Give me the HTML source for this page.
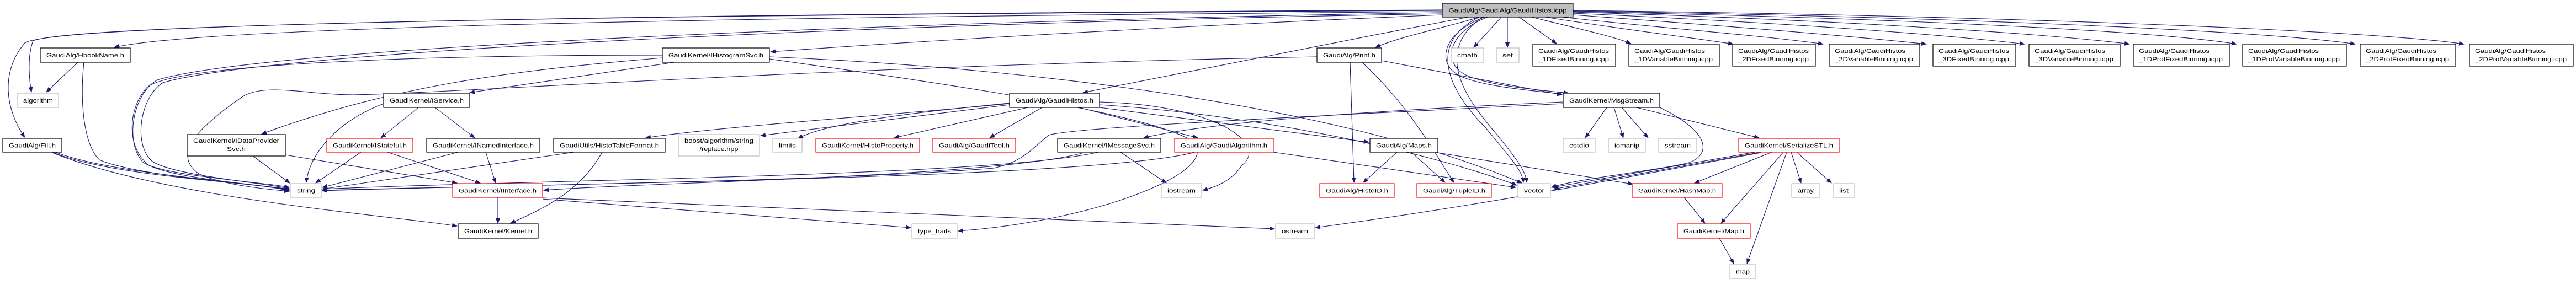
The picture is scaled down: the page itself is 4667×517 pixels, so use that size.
<!DOCTYPE html>
<html><head><meta charset="utf-8"><style>
html,body{margin:0;padding:0;background:#fff;}
svg{display:block;}
text{font-family:"Liberation Sans",sans-serif;font-size:11px;fill:#000;}
.e{fill:none;stroke:#191970;stroke-width:1.1;}
.n{fill:#fff;stroke:#000;stroke-width:1.2;}
.g{fill:#fff;stroke:#bfbfbf;stroke-width:1.2;}
.r{fill:#fff;stroke:#ff0000;stroke-width:1.2;}
</style></head><body>
<svg width="4667" height="517" viewBox="0 0 4667 517" xmlns="http://www.w3.org/2000/svg">
<defs><marker id="a" markerWidth="10" markerHeight="8" refX="9" refY="4" orient="auto" markerUnits="userSpaceOnUse"><path d="M0,0 L10,4 L0,8 z" fill="#191970"/></marker></defs>
<g class="e" marker-end="url(#a)">
<!-- root edges -->
<path d="M2613,21 C1800,28 400,40 207,86"/>
<path d="M2613,19 C1500,25 150,38 60,74 C50,100 52,140 57,167"/>
<path d="M2613,18 C1500,24 100,38 45,78 C0,130 10,200 45,249"/>
<path d="M2613,23 C1800,35 500,80 285,145 C240,170 225,260 260,295 C300,320 480,330 524,340"/>
<path d="M2613,25 C1800,38 520,85 295,150 C255,175 240,260 275,292 C310,318 480,332 524,342"/>
<path d="M2613,27 C2300,40 1800,65 1396,94"/>
<path d="M2660,31 C2400,80 2100,140 1962,168"/>
<path d="M2680,31 C2620,50 2540,65 2492,86"/>
<path d="M2720,31 L2670,86"/>
<path d="M2731,31 L2731,86"/>
<path d="M2752,31 L2820,79"/>
<path d="M2775,31 C2850,50 2920,65 2955,79"/>
<path d="M2800,31 C2950,55 3080,70 3140,80"/>
<path d="M2830,31 C3000,50 3200,65 3303,80"/>
<path d="M2850,27 C3100,45 3350,65 3490,80"/>
<path d="M2850,24 C3200,40 3500,60 3668,80"/>
<path d="M2850,22 C3300,35 3700,60 3858,80"/>
<path d="M2850,21 C3400,32 3900,55 4052,80"/>
<path d="M2850,20 C3500,30 4100,55 4267,80"/>
<path d="M2850,19 C3600,28 4300,55 4464,80"/>
<path d="M2690,31 C2610,60 2600,120 2650,140 C2700,160 2800,166 2830,171"/>
<path d="M2695,31 C2620,60 2612,118 2660,138 C2710,158 2800,164 2842,169"/>
<path d="M2680,31 C2580,80 2630,170 2690,230 C2740,290 2758,310 2760,331"/>
<path d="M2686,31 C2600,90 2650,170 2700,230 C2750,290 2764,310 2766,331"/>
<!-- left part -->
<path d="M141,113 L84,167"/>
<path d="M152,113 C145,180 150,260 180,290 C250,320 470,335 524,343"/>
<path d="M95,276 C200,320 450,330 524,344"/>
<path d="M100,276 C210,318 450,328 524,346"/>
<path d="M95,277 C300,360 700,390 828,410"/>
<path d="M458,283 L525,332"/>
<path d="M517,281 L828,332"/>
<path d="M695,188 C610,220 560,280 555,331"/>
<path d="M758,195 L690,250"/>
<path d="M788,195 L860,250"/>
<path d="M654,276 L572,332"/>
<path d="M702,276 L870,332"/>
<path d="M830,276 L584,340"/>
<path d="M880,276 L898,332"/>
<path d="M1040,276 L584,343"/>
<path d="M1091,276 C1050,350 980,380 925,405"/>
<path d="M902,358 L902,405"/>
<path d="M983,361 L1650,413"/>
<path d="M983,359 L2309,415"/>
<path d="M1222,113 L851,168"/>
<path d="M1200,105 C900,130 700,160 474,243"/>
<path d="M1200,100 C700,100 300,120 265,160 C230,200 230,270 270,300 C320,325 480,335 524,345"/>
<path d="M1394,103 C1800,120 2400,180 2757,332"/>
<path d="M1394,107 C1700,150 2050,200 2150,250 C2240,300 2000,400 1736,419"/>
<path d="M1829,188 C1600,210 1300,230 1170,250"/>
<path d="M1829,190 L1378,246"/>
<path d="M1829,187 C1700,200 1500,220 1446,251"/>
<path d="M1862,195 L1620,250"/>
<path d="M1888,195 L1793,250"/>
<path d="M1955,195 L2170,250"/>
<path d="M1992,195 L2480,258"/>
<path d="M1992,190 C2300,210 2600,280 2748,336"/>
<path d="M1992,185 C2200,190 2300,260 2250,300 C2230,330 2200,340 2179,345"/>
<path d="M2386,103 C1500,120 800,170 640,172 C560,172 480,150 440,175 C360,230 310,280 360,315 C400,335 480,343 524,347"/>
<path d="M1990,276 C1800,320 1000,325 584,343"/>
<path d="M1960,278 C1800,320 1200,330 985,345"/>
<path d="M2030,276 L2113,332"/>
<path d="M2165,276 C2000,320 1200,330 584,345"/>
<path d="M2307,276 L2746,340"/>
<path d="M2446,113 L2453,331"/>
<path d="M2468,113 C2560,200 2600,280 2634,331"/>
<path d="M2503,110 L2830,172"/>
<path d="M2832,185 C2500,200 2200,220 2072,250"/>
<path d="M2832,188 C2400,210 1950,230 1900,245 C1870,270 1850,295 1800,305 C1500,330 800,338 584,346"/>
<path d="M2911,195 L2872,250"/>
<path d="M2924,195 L2941,250"/>
<path d="M2938,195 L2986,250"/>
<path d="M2965,195 L3187,250"/>
<path d="M3007,195 C3100,240 3100,280 3060,295 C3000,310 2850,325 2811,340"/>
<path d="M2531,276 L2470,331"/>
<path d="M2557,276 L2618,331"/>
<path d="M2605,277 L2958,334"/>
<path d="M3180,276 L2812,340"/>
<path d="M3190,276 L2815,343"/>
<path d="M3190,277 C2900,330 2700,370 2383,413"/>
<path d="M3210,276 L3070,332"/>
<path d="M3231,276 L3118,405"/>
<path d="M3237,276 L3165,478"/>
<path d="M3245,276 L3263,332"/>
<path d="M3255,276 L3318,332"/>
<path d="M3051,358 L3089,405"/>
<path d="M3115,432 L3141,478"/>
</g>
<!-- nodes -->
<rect x="2613" y="6" width="237" height="25" fill="#bfbfbf" stroke="#000" stroke-width="1.2"/><text x="2731.5" y="22.5" text-anchor="middle" textLength="214" lengthAdjust="spacingAndGlyphs">GaudiAlg/GaudiAlg/GaudiHistos.icpp</text>
<rect class="n" x="73" y="87" width="163" height="26"/><text x="154.5" y="104" text-anchor="middle" textLength="141" lengthAdjust="spacingAndGlyphs">GaudiAlg/HbookName.h</text>
<rect class="g" x="32" y="169" width="74" height="26"/><text x="69" y="186" text-anchor="middle" textLength="54" lengthAdjust="spacingAndGlyphs">algorithm</text>
<rect class="n" x="5" y="251" width="107" height="25"/><text x="58.5" y="267.5" text-anchor="middle" textLength="85" lengthAdjust="spacingAndGlyphs">GaudiAlg/Fill.h</text>
<rect class="n" x="339" y="244" width="178" height="39"/><text x="428" y="259" text-anchor="middle" textLength="156" lengthAdjust="spacingAndGlyphs">GaudiKernel/IDataProvider</text><text x="428" y="274" text-anchor="middle" textLength="34" lengthAdjust="spacingAndGlyphs">Svc.h</text>
<rect class="g" x="527" y="333" width="55" height="25"/><text x="554.5" y="349.5" text-anchor="middle" textLength="33" lengthAdjust="spacingAndGlyphs">string</text>
<rect class="n" x="695" y="169" width="156" height="26"/><text x="773" y="186" text-anchor="middle" textLength="134" lengthAdjust="spacingAndGlyphs">GaudiKernel/IService.h</text>
<rect class="r" x="592" y="251" width="156" height="25"/><text x="670" y="267.5" text-anchor="middle" textLength="134" lengthAdjust="spacingAndGlyphs">GaudiKernel/IStateful.h</text>
<rect class="n" x="773" y="251" width="205" height="25"/><text x="875.5" y="267.5" text-anchor="middle" textLength="183" lengthAdjust="spacingAndGlyphs">GaudiKernel/INamedInterface.h</text>
<rect class="n" x="1003" y="251" width="202" height="25"/><text x="1104" y="267.5" text-anchor="middle" textLength="180" lengthAdjust="spacingAndGlyphs">GaudiUtils/HistoTableFormat.h</text>
<rect class="r" x="820" y="333" width="163" height="25"/><text x="901.5" y="349.5" text-anchor="middle" textLength="141" lengthAdjust="spacingAndGlyphs">GaudiKernel/IInterface.h</text>
<rect class="n" x="830" y="406" width="145" height="26"/><text x="902.5" y="423" text-anchor="middle" textLength="123" lengthAdjust="spacingAndGlyphs">GaudiKernel/Kernel.h</text>
<rect class="n" x="1200" y="87" width="194" height="26"/><text x="1297" y="104" text-anchor="middle" textLength="172" lengthAdjust="spacingAndGlyphs">GaudiKernel/IHistogramSvc.h</text>
<rect class="g" x="1229" y="244" width="147" height="39"/><text x="1302.5" y="259" text-anchor="middle" textLength="125" lengthAdjust="spacingAndGlyphs">boost/algorithm/string</text><text x="1302.5" y="274" text-anchor="middle" textLength="70" lengthAdjust="spacingAndGlyphs">/replace.hpp</text>
<rect class="g" x="1400" y="251" width="53" height="25"/><text x="1426.5" y="267.5" text-anchor="middle" textLength="31" lengthAdjust="spacingAndGlyphs">limits</text>
<rect class="r" x="1478" y="251" width="188" height="25"/><text x="1572" y="267.5" text-anchor="middle" textLength="166" lengthAdjust="spacingAndGlyphs">GaudiKernel/HistoProperty.h</text>
<rect class="r" x="1690" y="251" width="150" height="25"/><text x="1765" y="267.5" text-anchor="middle" textLength="128" lengthAdjust="spacingAndGlyphs">GaudiAlg/GaudiTool.h</text>
<rect class="n" x="1916" y="251" width="187" height="25"/><text x="2009.5" y="267.5" text-anchor="middle" textLength="165" lengthAdjust="spacingAndGlyphs">GaudiKernel/IMessageSvc.h</text>
<rect class="r" x="2128" y="251" width="179" height="25"/><text x="2217.5" y="267.5" text-anchor="middle" textLength="157" lengthAdjust="spacingAndGlyphs">GaudiAlg/GaudiAlgorithm.h</text>
<rect class="n" x="1829" y="169" width="163" height="26"/><text x="1910.5" y="186" text-anchor="middle" textLength="141" lengthAdjust="spacingAndGlyphs">GaudiAlg/GaudiHistos.h</text>
<rect class="g" x="2104" y="333" width="73" height="25"/><text x="2140.5" y="349.5" text-anchor="middle" textLength="51" lengthAdjust="spacingAndGlyphs">iostream</text>
<rect class="g" x="1652" y="406" width="82" height="26"/><text x="1693" y="423" text-anchor="middle" textLength="60" lengthAdjust="spacingAndGlyphs">type_traits</text>
<rect class="g" x="2311" y="406" width="70" height="26"/><text x="2346" y="423" text-anchor="middle" textLength="48" lengthAdjust="spacingAndGlyphs">ostream</text>
<rect class="n" x="2386" y="87" width="117" height="26"/><text x="2444.5" y="104" text-anchor="middle" textLength="95" lengthAdjust="spacingAndGlyphs">GaudiAlg/Print.h</text>
<rect class="r" x="2391" y="333" width="135" height="25"/><text x="2458.5" y="349.5" text-anchor="middle" textLength="113" lengthAdjust="spacingAndGlyphs">GaudiAlg/HistoID.h</text>
<rect class="r" x="2567" y="333" width="135" height="25"/><text x="2634.5" y="349.5" text-anchor="middle" textLength="113" lengthAdjust="spacingAndGlyphs">GaudiAlg/TupleID.h</text>
<rect class="g" x="2750" y="333" width="59" height="25"/><text x="2779.5" y="349.5" text-anchor="middle" textLength="37" lengthAdjust="spacingAndGlyphs">vector</text>
<rect class="g" x="2629" y="87" width="59" height="26"/><text x="2658.5" y="104" text-anchor="middle" textLength="37" lengthAdjust="spacingAndGlyphs">cmath</text>
<rect class="g" x="2711" y="87" width="41" height="26"/><text x="2731.5" y="104" text-anchor="middle" textLength="19" lengthAdjust="spacingAndGlyphs">set</text>
<rect class="n" x="2832" y="169" width="175" height="26"/><text x="2919.5" y="186" text-anchor="middle" textLength="153" lengthAdjust="spacingAndGlyphs">GaudiKernel/MsgStream.h</text>
<rect class="n" x="2482" y="251" width="123" height="25"/><text x="2543.5" y="267.5" text-anchor="middle" textLength="101" lengthAdjust="spacingAndGlyphs">GaudiAlg/Maps.h</text>
<rect class="g" x="2832" y="251" width="58" height="25"/><text x="2861" y="267.5" text-anchor="middle" textLength="36" lengthAdjust="spacingAndGlyphs">cstdio</text>
<rect class="g" x="2914" y="251" width="67" height="25"/><text x="2947.5" y="267.5" text-anchor="middle" textLength="45" lengthAdjust="spacingAndGlyphs">iomanip</text>
<rect class="g" x="3005" y="251" width="69" height="25"/><text x="3039.5" y="267.5" text-anchor="middle" textLength="47" lengthAdjust="spacingAndGlyphs">sstream</text>
<rect class="r" x="3150" y="251" width="182" height="25"/><text x="3241" y="267.5" text-anchor="middle" textLength="160" lengthAdjust="spacingAndGlyphs">GaudiKernel/SerializeSTL.h</text>
<rect class="r" x="2957" y="333" width="163" height="25"/><text x="3038.5" y="349.5" text-anchor="middle" textLength="141" lengthAdjust="spacingAndGlyphs">GaudiKernel/HashMap.h</text>
<rect class="g" x="3246" y="333" width="51" height="25"/><text x="3271.5" y="349.5" text-anchor="middle" textLength="29" lengthAdjust="spacingAndGlyphs">array</text>
<rect class="g" x="3321" y="333" width="39" height="25"/><text x="3340.5" y="349.5" text-anchor="middle" textLength="17" lengthAdjust="spacingAndGlyphs">list</text>
<rect class="r" x="3039" y="406" width="132" height="26"/><text x="3105" y="423" text-anchor="middle" textLength="110" lengthAdjust="spacingAndGlyphs">GaudiKernel/Map.h</text>
<rect class="g" x="3134" y="480" width="47" height="25"/><text x="3157.5" y="496.5" text-anchor="middle" textLength="25" lengthAdjust="spacingAndGlyphs">map</text>
<!-- icpp -->
<g>
<rect class="n" x="2777" y="80" width="150" height="40"/><text x="2787" y="96" textLength="128" lengthAdjust="spacingAndGlyphs">GaudiAlg/GaudiHistos</text><text x="2787" y="111" textLength="128" lengthAdjust="spacingAndGlyphs">_1DFixedBinning.icpp</text>
<rect class="n" x="2951" y="80" width="164" height="40"/><text x="2961" y="96" textLength="128" lengthAdjust="spacingAndGlyphs">GaudiAlg/GaudiHistos</text><text x="2961" y="111" textLength="142" lengthAdjust="spacingAndGlyphs">_1DVariableBinning.icpp</text>
<rect class="n" x="3139" y="80" width="150" height="40"/><text x="3149" y="96" textLength="128" lengthAdjust="spacingAndGlyphs">GaudiAlg/GaudiHistos</text><text x="3149" y="111" textLength="128" lengthAdjust="spacingAndGlyphs">_2DFixedBinning.icpp</text>
<rect class="n" x="3314" y="80" width="164" height="40"/><text x="3324" y="96" textLength="128" lengthAdjust="spacingAndGlyphs">GaudiAlg/GaudiHistos</text><text x="3324" y="111" textLength="142" lengthAdjust="spacingAndGlyphs">_2DVariableBinning.icpp</text>
<rect class="n" x="3502" y="80" width="150" height="40"/><text x="3512" y="96" textLength="128" lengthAdjust="spacingAndGlyphs">GaudiAlg/GaudiHistos</text><text x="3512" y="111" textLength="128" lengthAdjust="spacingAndGlyphs">_3DFixedBinning.icpp</text>
<rect class="n" x="3676" y="80" width="165" height="40"/><text x="3686" y="96" textLength="128" lengthAdjust="spacingAndGlyphs">GaudiAlg/GaudiHistos</text><text x="3686" y="111" textLength="143" lengthAdjust="spacingAndGlyphs">_3DVariableBinning.icpp</text>
<rect class="n" x="3865" y="80" width="174" height="40"/><text x="3875" y="96" textLength="128" lengthAdjust="spacingAndGlyphs">GaudiAlg/GaudiHistos</text><text x="3875" y="111" textLength="152" lengthAdjust="spacingAndGlyphs">_1DProfFixedBinning.icpp</text>
<rect class="n" x="4063" y="80" width="188" height="40"/><text x="4073" y="96" textLength="128" lengthAdjust="spacingAndGlyphs">GaudiAlg/GaudiHistos</text><text x="4073" y="111" textLength="166" lengthAdjust="spacingAndGlyphs">_1DProfVariableBinning.icpp</text>
<rect class="n" x="4276" y="80" width="173" height="40"/><text x="4286" y="96" textLength="128" lengthAdjust="spacingAndGlyphs">GaudiAlg/GaudiHistos</text><text x="4286" y="111" textLength="151" lengthAdjust="spacingAndGlyphs">_2DProfFixedBinning.icpp</text>
<rect class="n" x="4474" y="80" width="188" height="40"/><text x="4484" y="96" textLength="128" lengthAdjust="spacingAndGlyphs">GaudiAlg/GaudiHistos</text><text x="4484" y="111" textLength="166" lengthAdjust="spacingAndGlyphs">_2DProfVariableBinning.icpp</text>
</g>
</svg>
</body></html>
